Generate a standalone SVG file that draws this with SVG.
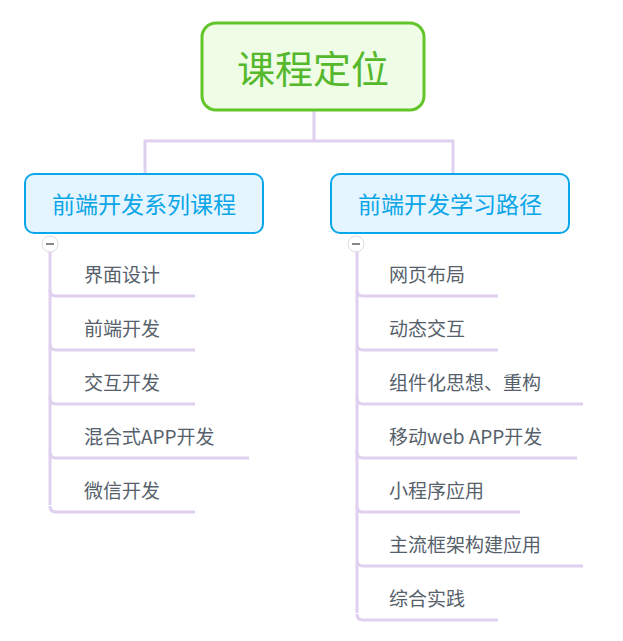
<svg xmlns="http://www.w3.org/2000/svg" width="623" height="641" viewBox="0 0 623 641">
<style>
.c{fill:none;stroke:#e0d0f0;stroke-width:3}
.t{font-family:"Noto Sans CJK SC","Liberation Sans",sans-serif;font-size:19px;fill:#56616b}
.h{font-family:"Noto Sans CJK SC",sans-serif;font-size:23px;fill:#0aa6e8;text-anchor:middle}
</style>
<rect width="623" height="641" fill="#fff"/>
<g id="connectors">
<path class="c" d="M314 110V141M145 174V141H453V174"/>
<path class="c" d="M50 250V505"/>
<path class="c" d="M50 290Q50 296 56 296H195M50 344Q50 350 56 350H195M50 398Q50 404 56 404H195M50 452Q50 458 56 458H249M50 506Q50 512 56 512H195"/>
<path class="c" d="M357 250V613"/>
<path class="c" d="M357 290Q357 296 363 296H498M357 344Q357 350 363 350H498M357 398Q357 404 363 404H583M357 452Q357 458 363 458H577M357 506Q357 512 363 512H520M357 560Q357 566 363 566H583M357 614Q357 620 363 620H498"/>
</g>
<g id="root"><rect x="202" y="23" width="222" height="87" rx="14" fill="#effde6" stroke="#62c52a" stroke-width="3"/>
<text x="313" y="66" dominant-baseline="central" text-anchor="middle" font-family="Noto Sans CJK SC,sans-serif" font-size="38" fill="#56b82c">课程定位</text></g>
<g id="n1"><rect x="25" y="174" width="238" height="59" rx="9" fill="#e5f5ff" stroke="#0aa6e8" stroke-width="2"/><text class="h" x="144" y="203" dominant-baseline="central">前端开发系列课程</text></g>
<g id="n2"><rect x="331" y="174" width="238" height="59" rx="9" fill="#e5f5ff" stroke="#0aa6e8" stroke-width="2"/><text class="h" x="450" y="203" dominant-baseline="central">前端开发学习路径</text></g>
<g id="m1"><circle cx="50" cy="244" r="8" fill="#fff" stroke="#ddd"/><path d="M46 244H54" stroke="#888" stroke-width="2"/></g>
<g id="m2"><circle cx="356" cy="244" r="8" fill="#fff" stroke="#ddd"/><path d="M352 244H360" stroke="#888" stroke-width="2"/></g>
<g id="left">
<text class="t" x="84" y="282">界面设计</text>
<text class="t" x="84" y="336">前端开发</text>
<text class="t" x="84" y="390">交互开发</text>
<text class="t" x="84" y="444">混合式APP开发</text>
<text class="t" x="84" y="498">微信开发</text>
</g>
<g id="right">
<text class="t" x="389" y="282">网页布局</text>
<text class="t" x="389" y="336">动态交互</text>
<text class="t" x="389" y="390">组件化思想、重构</text>
<text class="t" x="389" y="444">移动web APP开发</text>
<text class="t" x="389" y="498">小程序应用</text>
<text class="t" x="389" y="552">主流框架构建应用</text>
<text class="t" x="389" y="606">综合实践</text>
</g>
</svg>
